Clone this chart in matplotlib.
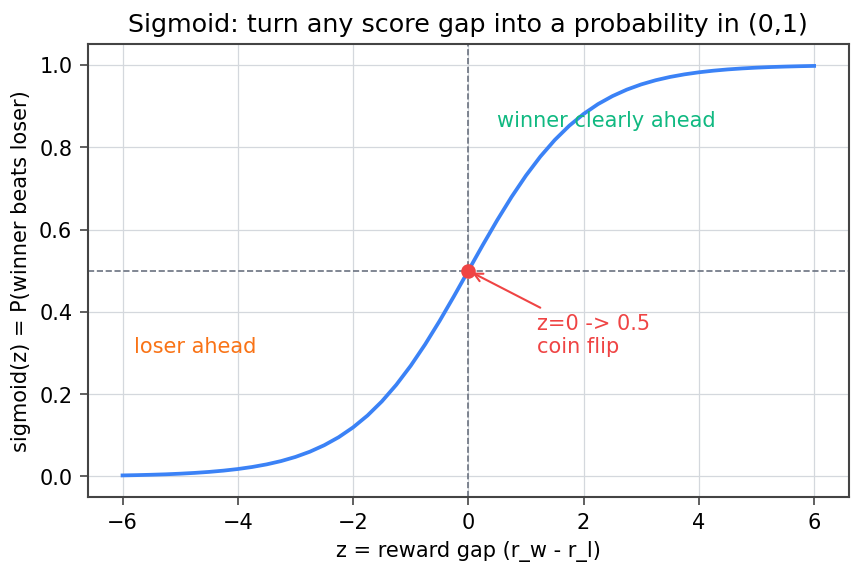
import matplotlib
matplotlib.use("Agg")
from matplotlib import pyplot as plt

# points
z = [-6.0, -5.75, -5.5, -5.25, -5.0, -4.75, -4.5, -4.25, -4.0, -3.75, -3.5, -3.25,
     -3.0, -2.75, -2.5, -2.25, -2.0, -1.75, -1.5, -1.25, -1.0, -0.75, -0.5, -0.25,
     0.0, 0.25, 0.5, 0.75, 1.0, 1.25, 1.5, 1.75, 2.0, 2.25, 2.5, 2.75,
     3.0, 3.25, 3.5, 3.75, 4.0, 4.25, 4.5, 4.75, 5.0, 5.25, 5.5, 5.75, 6.0]
prob = [0.0025, 0.0032, 0.0041, 0.0052, 0.0067, 0.0086, 0.0110, 0.0141, 0.0180, 0.0230,
        0.0293, 0.0373, 0.0474, 0.0601, 0.0759, 0.0953, 0.1192, 0.1480, 0.1824, 0.2227,
        0.2689, 0.3208, 0.3775, 0.4378, 0.5000, 0.5622, 0.6225, 0.6792, 0.7311, 0.7773,
        0.8176, 0.8520, 0.8808, 0.9047, 0.9241, 0.9399, 0.9526, 0.9627, 0.9707, 0.9770,
        0.9820, 0.9859, 0.9890, 0.9914, 0.9933, 0.9948, 0.9959, 0.9968, 0.9975]
mid_z, mid_p = 0.0, 0.5

fig, ax = plt.subplots(figsize=(5.75, 3.83), dpi=150)
fig.subplots_adjust(left=0.102, right=0.984, top=0.922, bottom=0.134)

ax.grid(True, color="#d4d8dd", linewidth=0.6)
ax.set_axisbelow(True)
ax.plot(z, prob, color="#3b82f6", linewidth=1.8)
ax.axhline(0.5, color="#6b7280", linestyle="--", linewidth=0.8)
ax.axvline(0, color="#6b7280", linestyle="--", linewidth=0.8)
ax.plot([mid_z], [mid_p], "o", color="#ef4444", markersize=6, zorder=5)
ax.annotate("z=0 -> 0.5\ncoin flip", xy=(mid_z, mid_p), xytext=(1.2, 0.3),
            color="#ef4444", fontsize=10,
            arrowprops=dict(arrowstyle="->", color="#ef4444", lw=1))
ax.text(0.5, 0.85, "winner clearly ahead", color="#10b981", fontsize=10)
ax.text(-5.8, 0.3, "loser ahead", color="#f97316", fontsize=10)

ax.set_xlim(-6.6, 6.6)
ax.set_ylim(-0.05, 1.05)
ax.set_title("Sigmoid: turn any score gap into a probability in (0,1)", fontsize=12.2)
ax.set_xlabel("z = reward gap (r_w - r_l)", fontsize=10)
ax.set_ylabel("sigmoid(z) = P(winner beats loser)", fontsize=10)
ax.tick_params(labelsize=10, color="#444444", length=4)
for s in ax.spines.values():
    s.set_color("#444444")
    s.set_linewidth(1.0)

fig.savefig("out.png", dpi=150)
